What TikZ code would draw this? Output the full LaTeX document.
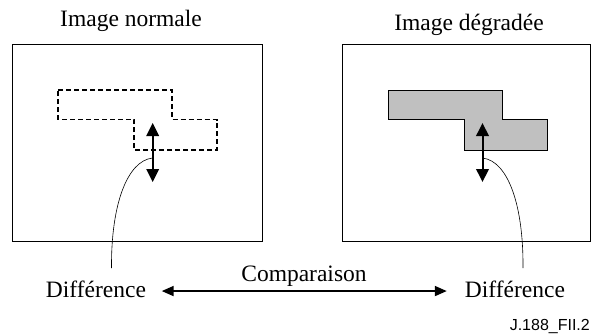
\documentclass[tikz,border=0pt]{standalone}
\usepackage{fontspec}
\setmainfont{Liberation Serif}
\newfontfamily\arialfont{Liberation Sans}
\usetikzlibrary{arrows.meta}
\begin{document}
\begin{tikzpicture}[x=1pt,y=-1pt,
  frame/.style={draw=black,line width=0.9pt},
  lbl/.style={font=\fontsize{23.5}{26}\selectfont,inner sep=0pt,anchor=base},
  dashshape/.style={draw=black,line width=1.5pt,dash pattern=on 5pt off 3pt},
  grayshape/.style={draw=black,fill={rgb,255:red,192;green,192;blue,192},line width=1pt},
  dbl/.style={line width=2pt,{Triangle[width=12.5pt,length=13pt]}-{Triangle[width=12.5pt,length=13pt]}},
  cmp/.style={line width=1.8pt,{Triangle[width=10pt,length=12pt]}-{Triangle[width=10pt,length=12pt]}},
  lead/.style={draw=black,line width=0.6pt}]
\useasboundingbox (0,0) rectangle (593,335);
% frames
\draw[frame] (12.5,44) rectangle (262.5,241);
\draw[frame] (342,44) rectangle (590,241);
% titles
\node[lbl] (t1) at (131,26) {Image normale};
\node[lbl] (t2) at (469,30.5) {Image dégradée};
% shapes
\draw[dashshape] (58,90) -- (172,90) -- (172,119.5) -- (217,119.5) -- (217,150) -- (134,150) -- (134,119.5) -- (58,119.5) -- cycle;
\draw[grayshape] (388,90) -- (502,90) -- (502,119.5) -- (547,119.5) -- (547,150) -- (464,150) -- (464,119.5) -- (388,119.5) -- cycle;
% double arrows
\coordinate (a1t) at (152.7,123);
\coordinate (a1b) at (152.7,182);
\coordinate (a2t) at (482.5,123);
\coordinate (a2b) at (482.5,182);
\draw[dbl] (a1t) -- (a1b);
\draw[dbl] (a2t) -- (a2b);
% labels
\node[lbl] (d1) at (96,297.7) {Différence};
\node[lbl] (d2) at (515,297.7) {Différence};
\node[lbl] (cp) at (304,281.7) {Comparaison};
\node[font=\arialfont\fontsize{16}{18}\selectfont,inner sep=0pt,anchor=base east] (ref) at (590,330) {J.188\_FII.2};
% leader curves
\coordinate (c1s) at (152.5,158);
\coordinate (c1e) at (111.5,268);
\coordinate (c2s) at (482.5,158);
\coordinate (c2e) at (523,268);
\draw[lead] (c1s) .. controls (127,161) and (111,205) .. (c1e);
\draw[lead] (c2s) .. controls (508,161) and (523.5,205) .. (c2e);
% comparison arrow
\draw[cmp] ([xshift=15.5pt,yshift=-1.5pt]d1.east) -- ([xshift=-18pt,yshift=-1.5pt]d2.west);
\end{tikzpicture}
\end{document}
